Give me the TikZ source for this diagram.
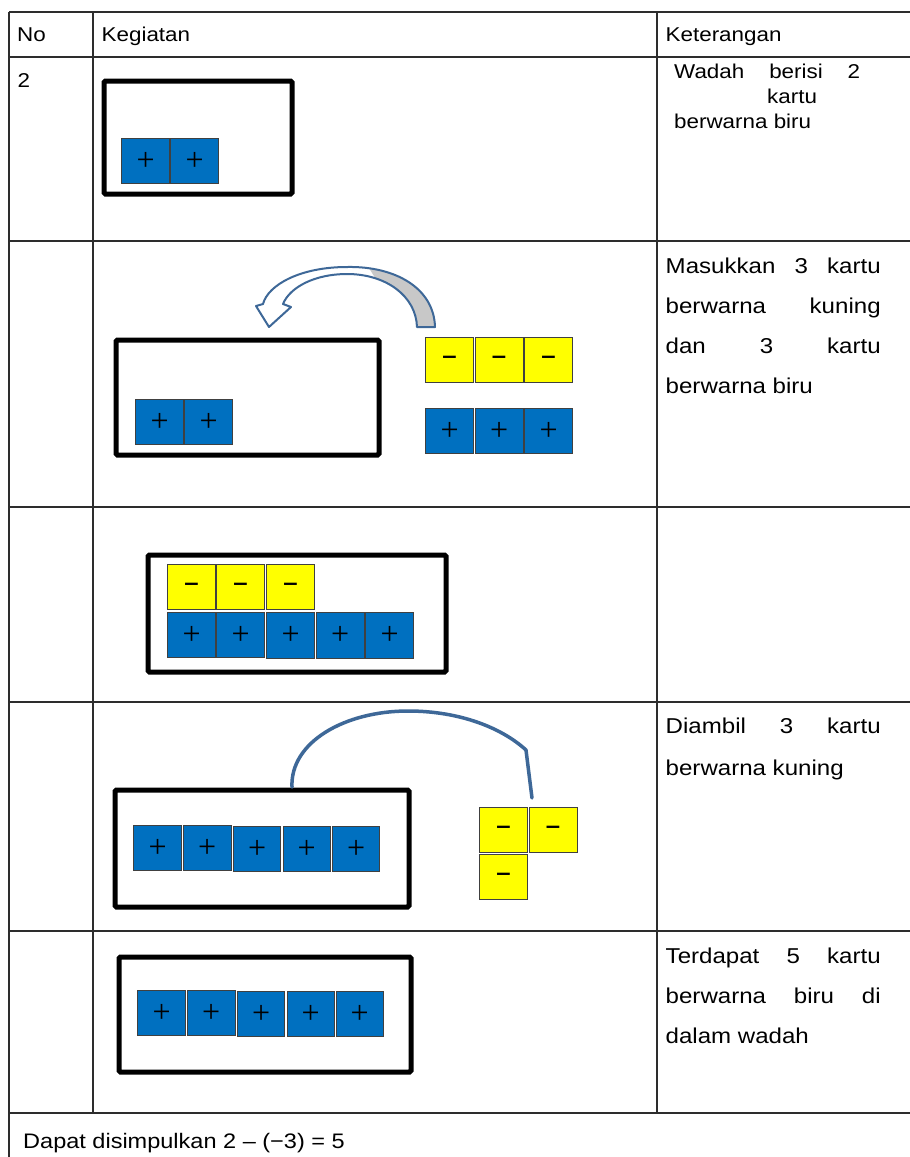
\documentclass[tikz,border=0pt]{standalone}
\usepackage{fontspec}
\setmainfont{Liberation Sans}[FakeStretch=1.12]
\newfontfamily\signfont{Liberation Serif}
\definecolor{cardblue}{RGB}{0,112,192}
\definecolor{cardyellow}{RGB}{255,255,0}
\definecolor{arcblue}{RGB}{62,104,152}
\definecolor{rulegray}{RGB}{45,45,45}
\definecolor{backgray}{RGB}{200,200,200}
\begin{document}
\begin{tikzpicture}[x=1pt,y=-1pt,
  tablerule/.style={draw=rulegray, line width=1.5pt},
  wadah/.style={draw=black, line width=5pt, rounded corners=1.5pt, inner sep=0pt},
  cardbase/.style={draw=black!75, line width=1.2pt, inner sep=0pt, anchor=north west,
               minimum width=48pt, minimum height=45pt},
  pluscard/.style={cardbase, fill=cardblue, font=\signfont\fontsize{32}{32}\selectfont},
  minuscard/.style={cardbase, fill=cardyellow, font=\bfseries\fontsize{23}{23}\selectfont},
  headtxt/.style={anchor=base west, inner sep=0pt, font=\fontsize{20}{24}\selectfont},
  kettxt/.style={anchor=base west, inner sep=0pt, font=\fontsize{21.5}{24}\selectfont},
  linkarc/.style={draw=arcblue, line width=3.5pt, line cap=round, line join=round},
]
\useasboundingbox (0,0) rectangle (910,1157);
\fill[white] (0,0) rectangle (910,1157);

% ---- table rules
\foreach \yy in {12,57,241,507,702,931,1113}
  \draw[tablerule] (9,\yy) -- (910,\yy);
\draw[tablerule] (9,12) -- (9,1157);
\draw[tablerule] (93,12) -- (93,1113);
\draw[tablerule] (657,12) -- (657,1113);

% ---- header and numbering
\node[headtxt] (hno)  at (17,41)    {No};
\node[headtxt] (hkeg) at (101.5,41) {Kegiatan};
\node[headtxt] (hket) at (665.5,41) {Keterangan};
\node[headtxt] (num)  at (17.5,87)  {2};

% ---- row 1
\node[wadah, minimum width=188pt, minimum height=113pt] (wadah1) at (198,137.5) {};
\node[pluscard] (r1a) at (121,138) {+};
\node[pluscard] (r1b) at (170,138) {+};
\node[headtxt] (k1a) at (674,78)  {\makebox[186pt][s]{Wadah berisi 2}};
\node[headtxt] (k1b) at (767,103) {kartu};
\node[headtxt] (k1c) at (674,128) {berwarna biru};

% ---- row 2
\node[wadah, minimum width=263pt, minimum height=115pt] (wadah2) at (247.5,397.5) {};
\node[pluscard] (r2a) at (135,399) {+};
\node[pluscard] (r2b) at (184,399) {+};
\node[minuscard] (r2c) at (425,337) {–};
\node[minuscard] (r2d) at (474.5,337) {–};
\node[minuscard] (r2e) at (524,337) {–};
\node[pluscard] (r2f) at (425,408) {+};
\node[pluscard] (r2g) at (474.5,408) {+};
\node[pluscard] (r2h) at (524,408) {+};

% curved block arrow carrying the cards into the container
\path[save path=\bandpath]
  (435,327) .. controls (434,288) and (395,266) .. (347,267)
            .. controls (300,267) and (268,285) .. (263,304)
  -- (256,306) -- (269,327) -- (291,307) -- (283,304)
            .. controls (290,287) and (315,274) .. (347,274)
            .. controls (386,274) and (416,296) .. (417,327) -- cycle;
\fill[white, use path=\bandpath];
\begin{scope}
  % grey back face on the descending right-hand part
  \clip (358,250) -- (450,250) -- (450,335) -- (410,335) -- cycle;
  \fill[backgray, use path=\bandpath];
\end{scope}
\draw[draw=arcblue, line width=2pt, line join=round, use path=\bandpath];

\node[kettxt] (k2a) at (665.5,273) {\makebox[215pt][s]{Masukkan 3 kartu}};
\node[kettxt] (k2b) at (665.5,313) {\makebox[215pt][s]{berwarna kuning}};
\node[kettxt] (k2c) at (665.5,353) {\makebox[215pt][s]{dan 3 kartu}};
\node[kettxt] (k2d) at (665.5,393) {berwarna biru};

% ---- row 3
\node[wadah, minimum width=298pt, minimum height=117pt] (wadah3) at (297,613.5) {};
\node[minuscard] (r3a) at (167,564) {–};
\node[minuscard] (r3b) at (216,564) {–};
\node[minuscard] (r3c) at (266,564) {–};
\node[pluscard] (r3d) at (167,612) {+};
\node[pluscard] (r3e) at (216,612) {+};
\node[pluscard, minimum height=46pt] (r3f) at (266,612) {+};
\node[pluscard, minimum height=46pt] (r3g) at (315.5,612) {+};
\node[pluscard, minimum height=46pt] (r3h) at (365,612) {+};

% ---- row 4
\node[wadah, minimum width=294pt, minimum height=117pt] (wadah4) at (262,848.5) {};
\node[pluscard] (r4a) at (133,825) {+};
\node[pluscard] (r4b) at (182.5,825) {+};
\node[pluscard, minimum width=47pt] (r4c) at (233,826) {+};
\node[pluscard, minimum width=47pt] (r4d) at (282.5,826) {+};
\node[pluscard, minimum width=47pt] (r4e) at (332,826) {+};
\node[minuscard] (r4f) at (479,807) {–};
\node[minuscard] (r4g) at (528.5,807) {–};
\node[minuscard] (r4h) at (479,853.5) {–};

\coordinate (lift) at (292,787);
\coordinate (drop) at (532,798);
\draw[linkarc] (lift) .. controls (290,742) and (345,711) .. (408,711)
                  .. controls (460,711) and (502,728) .. (526,750) -- (drop);

\node[kettxt] (k4a) at (665.5,733) {\makebox[215pt][s]{Diambil 3 kartu}};
\node[kettxt] (k4b) at (665.5,775) {berwarna kuning};

% ---- row 5
\node[wadah, minimum width=292pt, minimum height=115pt] (wadah5) at (265,1014.5) {};
\node[pluscard] (r5a) at (137,990) {+};
\node[pluscard] (r5b) at (186.5,990) {+};
\node[pluscard, minimum width=47pt] (r5c) at (237,991) {+};
\node[pluscard, minimum width=47pt] (r5d) at (286.5,991) {+};
\node[pluscard, minimum width=47pt] (r5e) at (335.5,991) {+};

\node[kettxt] (k5a) at (665.5,963)  {\makebox[215pt][s]{Terdapat 5 kartu}};
\node[kettxt] (k5b) at (665.5,1003) {\makebox[215pt][s]{berwarna biru di}};
\node[kettxt] (k5c) at (665.5,1043) {dalam wadah};

% ---- conclusion
\node[kettxt, font=\fontsize{21}{24}\selectfont] (summary) at (23,1148)
  {Dapat disimpulkan 2 – (−3) = 5};
\end{tikzpicture}
\end{document}
